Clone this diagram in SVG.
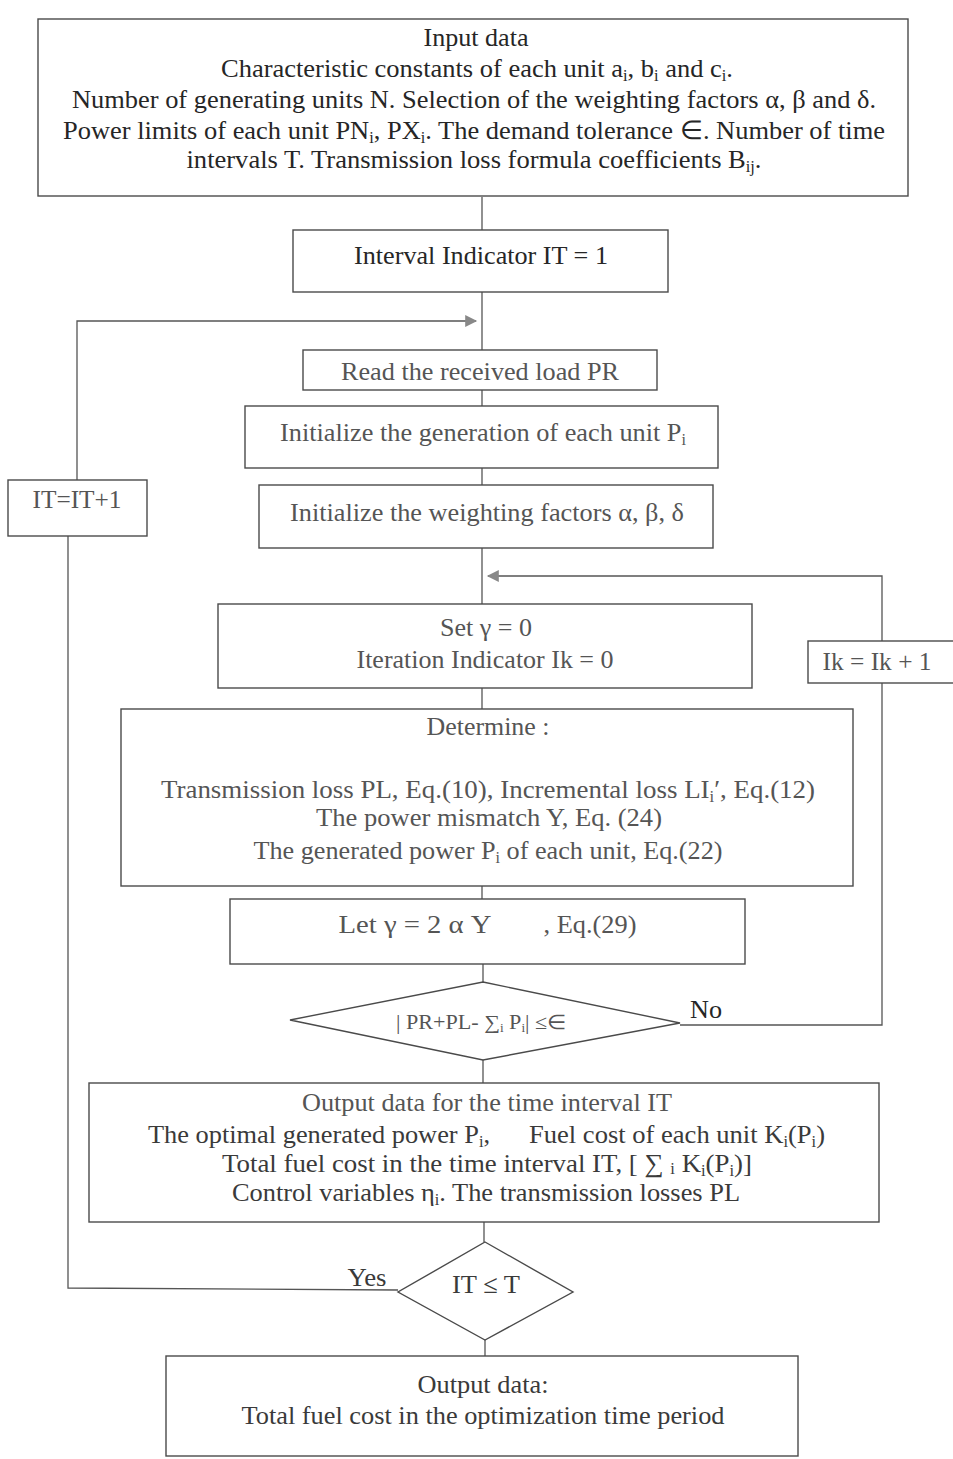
<svg xmlns="http://www.w3.org/2000/svg" width="953" height="1459" viewBox="0 0 953 1459">
<style>
.box{fill:none;stroke:#4a4a4a;stroke-width:1.4}
.ln{fill:none;stroke:#555;stroke-width:1.3}
.t{font-family:"Liberation Serif","Times New Roman",serif;font-size:26px;fill:#262626;text-anchor:middle}
.st{text-anchor:start}
.g{fill:#555}
.s{font-size:16px}
</style>
<defs>
<marker id="ah" viewBox="0 0 10 10" refX="9" refY="5" markerWidth="14" markerHeight="12" markerUnits="userSpaceOnUse" orient="auto">
<path d="M0,0 L10,5 L0,10 Z" fill="#888"/>
</marker>
</defs>
<rect width="953" height="1459" fill="#ffffff"/>

<g id="connectors">
<line class="ln" x1="482" y1="197" x2="482" y2="230"/>
<line class="ln" x1="482" y1="292" x2="482" y2="350"/>
<line class="ln" x1="482" y1="390" x2="482" y2="406"/>
<line class="ln" x1="482" y1="468" x2="482" y2="485"/>
<line class="ln" x1="482" y1="548" x2="482" y2="604"/>
<line class="ln" x1="482" y1="688" x2="482" y2="709"/>
<line class="ln" x1="482" y1="886" x2="482" y2="899"/>
<line class="ln" x1="483" y1="964" x2="483" y2="982"/>
<line class="ln" x1="483" y1="1060" x2="483" y2="1083"/>
<line class="ln" x1="484" y1="1222" x2="484" y2="1242"/>
<line class="ln" x1="485" y1="1340" x2="485" y2="1356"/>
<polyline class="ln" points="398,1290 68,1288 68,536"/>
<polyline class="ln" points="77,480 77,321 476,321" marker-end="url(#ah)"/>
<polyline class="ln" points="680,1025 882,1025 882,683"/>
<polyline class="ln" points="882,641 882,576 488,576" marker-end="url(#ah)"/>
</g>

<g id="input">
<rect class="box" x="38" y="19" width="870" height="177"/>
<text class="t" x="476" y="46" textLength="105" lengthAdjust="spacingAndGlyphs">Input data</text>
<text class="t" x="477" y="77" textLength="512" lengthAdjust="spacingAndGlyphs">Characteristic constants of each unit a<tspan class="s" dy="4">i</tspan><tspan dy="-4">, b</tspan><tspan class="s" dy="4">i</tspan><tspan dy="-4"> and c</tspan><tspan class="s" dy="4">i</tspan><tspan dy="-4">.</tspan></text>
<text class="t" x="474" y="108" textLength="804" lengthAdjust="spacingAndGlyphs">Number of generating units N. Selection of the weighting factors α, β and δ.</text>
<text class="t" x="474" y="139" textLength="822" lengthAdjust="spacingAndGlyphs">Power limits of each unit PN<tspan class="s" dy="4">i</tspan><tspan dy="-4">, PX</tspan><tspan class="s" dy="4">i</tspan><tspan dy="-4">. The demand tolerance ∈.  Number of time</tspan></text>
<text class="t" x="474" y="168" textLength="575" lengthAdjust="spacingAndGlyphs">intervals T. Transmission loss formula coefficients B<tspan class="s" dy="4">ij</tspan><tspan dy="-4">.</tspan></text>
</g>

<g id="interval">
<rect class="box" x="293" y="230" width="375" height="62"/>
<text class="t" x="481" y="264" textLength="254" lengthAdjust="spacingAndGlyphs">Interval Indicator IT = 1</text>
</g>

<g id="read">
<rect class="box" x="303" y="350" width="354" height="40"/>
<text class="t g" x="480" y="380" textLength="278" lengthAdjust="spacingAndGlyphs">Read the received load PR</text>
</g>

<g id="initgen">
<rect class="box" x="245" y="406" width="473" height="62"/>
<text class="t g" x="483" y="441" textLength="406" lengthAdjust="spacingAndGlyphs">Initialize the generation of each unit P<tspan class="s" dy="4">i</tspan></text>
</g>

<g id="initweight">
<rect class="box" x="259" y="485" width="454" height="63"/>
<text class="t g" x="487" y="521" textLength="394" lengthAdjust="spacingAndGlyphs">Initialize the weighting factors α, β, δ</text>
</g>

<g id="itinc">
<rect class="box" x="8" y="480" width="139" height="56"/>
<text class="t g" x="77" y="508" textLength="89" lengthAdjust="spacingAndGlyphs">IT=IT+1</text>
</g>

<g id="set">
<rect class="box" x="218" y="604" width="534" height="84"/>
<text class="t g" x="486" y="636" textLength="92" lengthAdjust="spacingAndGlyphs">Set γ = 0</text>
<text class="t g" x="485" y="668" textLength="257" lengthAdjust="spacingAndGlyphs">Iteration Indicator Ik = 0</text>
</g>

<g id="ikinc">
<rect class="box" x="808" y="641" width="150" height="42"/>
<text class="t g" x="877" y="670" textLength="109" lengthAdjust="spacingAndGlyphs">Ik = Ik + 1</text>
</g>

<g id="determine">
<rect class="box" x="121" y="709" width="732" height="177"/>
<text class="t g" x="488" y="735" textLength="123" lengthAdjust="spacingAndGlyphs">Determine :</text>
<text class="t g" x="488" y="798" textLength="654" lengthAdjust="spacingAndGlyphs">Transmission loss PL,  Eq.(10), Incremental loss LI<tspan class="s" dy="4">i</tspan><tspan dy="-4">′,  Eq.(12)</tspan></text>
<text class="t g" x="489" y="826" textLength="346" lengthAdjust="spacingAndGlyphs">The power mismatch Y, Eq. (24)</text>
<text class="t g" x="488" y="859" textLength="469" lengthAdjust="spacingAndGlyphs">The generated power P<tspan class="s" dy="4">i</tspan><tspan dy="-4"> of each unit, Eq.(22)</tspan></text>
</g>

<g id="let">
<rect class="box" x="230" y="899" width="515" height="65"/>
<text class="t g" x="415" y="933" textLength="153" lengthAdjust="spacingAndGlyphs">Let  γ = 2  α Y</text>
<text class="t g" x="590" y="933" textLength="93" lengthAdjust="spacingAndGlyphs">, Eq.(29)</text>
</g>

<g id="check">
<polygon class="box" points="483,982 680,1023 483,1060 290,1020"/>
<text class="t g" x="481" y="1029" style="font-size:20px" textLength="170" lengthAdjust="spacingAndGlyphs">| PR+PL- ∑<tspan class="s" style="font-size:12px" dy="3">i</tspan><tspan dy="-3"> P</tspan><tspan class="s" style="font-size:12px" dy="3">i</tspan><tspan dy="-3">| ≤∈</tspan></text>
<text class="t" x="706" y="1018" textLength="32" lengthAdjust="spacingAndGlyphs">No</text>
</g>

<g id="output">
<rect class="box" x="89" y="1083" width="790" height="139"/>
<text class="t g" x="487" y="1111" textLength="370" lengthAdjust="spacingAndGlyphs">Output data for the time interval IT</text>
<text class="t st" x="148" y="1143" style="fill:#3a3a3a" textLength="342" lengthAdjust="spacingAndGlyphs">The optimal generated power P<tspan class="s" dy="4">i</tspan><tspan dy="-4">,</tspan></text>
<text class="t st" x="529" y="1143" style="fill:#3a3a3a" textLength="296" lengthAdjust="spacingAndGlyphs">Fuel cost of each unit K<tspan class="s" dy="4">i</tspan><tspan dy="-4">(P</tspan><tspan class="s" dy="4">i</tspan><tspan dy="-4">)</tspan></text>
<text class="t" x="487" y="1172" style="fill:#3a3a3a" textLength="530" lengthAdjust="spacingAndGlyphs">Total fuel cost in the time interval IT,  [ ∑ <tspan class="s" dy="2">i</tspan><tspan dy="-2"> K</tspan><tspan class="s" dy="4">i</tspan><tspan dy="-4">(P</tspan><tspan class="s" dy="4">i</tspan><tspan dy="-4">)]</tspan></text>
<text class="t" x="486" y="1201" style="fill:#3a3a3a" textLength="508" lengthAdjust="spacingAndGlyphs">Control variables η<tspan class="s" dy="4">i</tspan><tspan dy="-4">. The transmission losses PL</tspan></text>
</g>

<g id="itcheck">
<polygon class="box" points="485,1242 573,1292 485,1340 398,1292"/>
<text class="t" x="486" y="1293" style="fill:#3a3a3a" textLength="68" lengthAdjust="spacingAndGlyphs">IT ≤ T</text>
<text class="t" x="367" y="1286" style="fill:#3a3a3a" textLength="39" lengthAdjust="spacingAndGlyphs">Yes</text>
</g>

<g id="final">
<rect class="box" x="166" y="1356" width="632" height="100"/>
<text class="t" x="483" y="1393" style="fill:#3a3a3a" textLength="131" lengthAdjust="spacingAndGlyphs">Output data:</text>
<text class="t" x="483" y="1424" style="fill:#3a3a3a" textLength="483" lengthAdjust="spacingAndGlyphs">Total fuel cost in the optimization time period</text>
</g>
</svg>
